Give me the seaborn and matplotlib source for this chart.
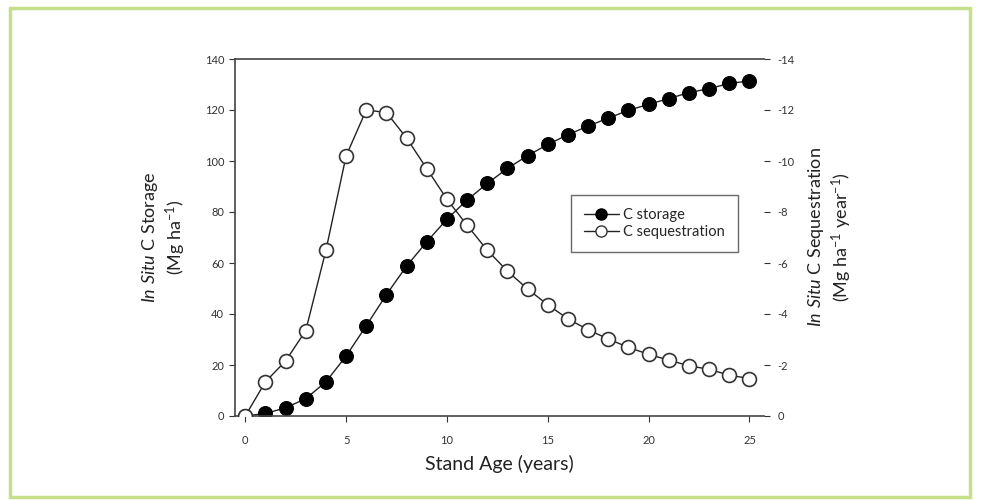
import matplotlib
matplotlib.use("Agg")
import matplotlib.pyplot as plt
import seaborn as sns
import pandas as pd
from matplotlib.patches import Rectangle
from matplotlib.lines import Line2D

# ---------------------------------------------------------------------
# Data
# ---------------------------------------------------------------------
stand_age = list(range(0, 26))
c_storage = [0, 1, 3.2, 6.8, 13.4, 23.5, 35.4, 47.6, 58.8, 68.3, 77.2,
             84.7, 91.2, 97.1, 102.1, 106.5, 110.3, 113.7, 116.8, 119.9,
             122.2, 124.5, 126.8, 128.4, 130.4, 131.4]
# sequestration is reported as negative flux on the right axis
c_sequestration = [0, -1.34, -2.16, -3.35, -6.5, -10.2, -12.0, -11.9, -10.9,
                   -9.7, -8.5, -7.48, -6.5, -5.68, -4.98, -4.36, -3.81, -3.38,
                   -3.02, -2.69, -2.42, -2.19, -1.97, -1.83, -1.6, -1.47]

df = pd.DataFrame({"age": stand_age, "storage": c_storage, "seq": c_sequestration})

sns.set_style("white")
plt.rcParams["font.family"] = ["Lato", "DejaVu Sans"]
plt.rcParams["axes.unicode_minus"] = False
plt.rcParams["mathtext.fontset"] = "custom"
plt.rcParams["mathtext.rm"] = "Lato"
plt.rcParams["mathtext.it"] = "Lato:italic"

fig = plt.figure(figsize=(9.84, 5.0), dpi=100)
ax = fig.add_axes([0.239, 0.168, 0.537, 0.714])
ax2 = ax.twinx()

sns.lineplot(data=df, x="age", y="storage", ax=ax, color="#222222", lw=1,
             marker="o", markersize=10, markerfacecolor="black",
             markeredgecolor="black")
sns.lineplot(data=df, x="age", y="seq", ax=ax2, color="#222222", lw=1,
             marker="o", markersize=10, markerfacecolor="white",
             markeredgecolor="#333333", markeredgewidth=1.2)

ax.set_xlim(-0.5, 25.7)
ax.set_ylim(0, 140)
ax2.set_ylim(0, -14)
ax.set_xticks([0, 5, 10, 15, 20, 25])
ax.set_yticks(range(0, 141, 20))
ax2.set_yticks(range(0, -15, -2))

for a in (ax, ax2):
    a.tick_params(length=4, width=0.8, labelsize=8, colors="#333333",
                  direction="out", pad=4)
ax.tick_params(axis="x", pad=10)
for s in ("left", "bottom", "top"):
    ax.spines[s].set_color("#444444")
    ax.spines[s].set_linewidth(1.2)
ax.spines["right"].set_visible(False)
for s in ax2.spines.values():
    s.set_visible(False)
ax.tick_params(axis="y", left=True)
ax.tick_params(axis="x", bottom=True)
ax2.tick_params(axis="y", right=True, pad=6)

ax.set_xlabel("Stand Age (years)", fontsize=14, color="#222222", labelpad=6)
ax.set_ylabel(r"$\mathit{In\ Situ}$ C Storage" + "\n" + r"(Mg ha$^{-1}$)",
              fontsize=13, color="#222222", labelpad=12)
ax2.set_ylabel(r"$\mathit{In\ Situ}$ C Sequestration" + "\n" +
               r"(Mg ha$^{-1}$ year$^{-1}$)",
               fontsize=13, color="#222222", labelpad=8)

handles = [
    Line2D([], [], color="#222222", lw=1, marker="o", markersize=8,
           markerfacecolor="black", markeredgecolor="black"),
    Line2D([], [], color="#222222", lw=1, marker="o", markersize=8,
           markerfacecolor="white", markeredgecolor="#333333"),
]
leg = ax2.legend(handles, ["C storage", "C sequestration"], loc="upper left",
                 bbox_to_anchor=(0.621, 0.639), fontsize=10.5, frameon=True,
                 fancybox=False, handlelength=2.4, handletextpad=0.3,
                 borderpad=0.9, labelspacing=0.2)
leg.get_frame().set_edgecolor("#444444")
leg.get_frame().set_linewidth(1)

fig.patches.append(Rectangle((0.01, 0.006), 0.976, 0.978, transform=fig.transFigure,
                             fill=False, edgecolor="#c6df8a", lw=2.5))

fig.savefig("out.png", dpi=100)
